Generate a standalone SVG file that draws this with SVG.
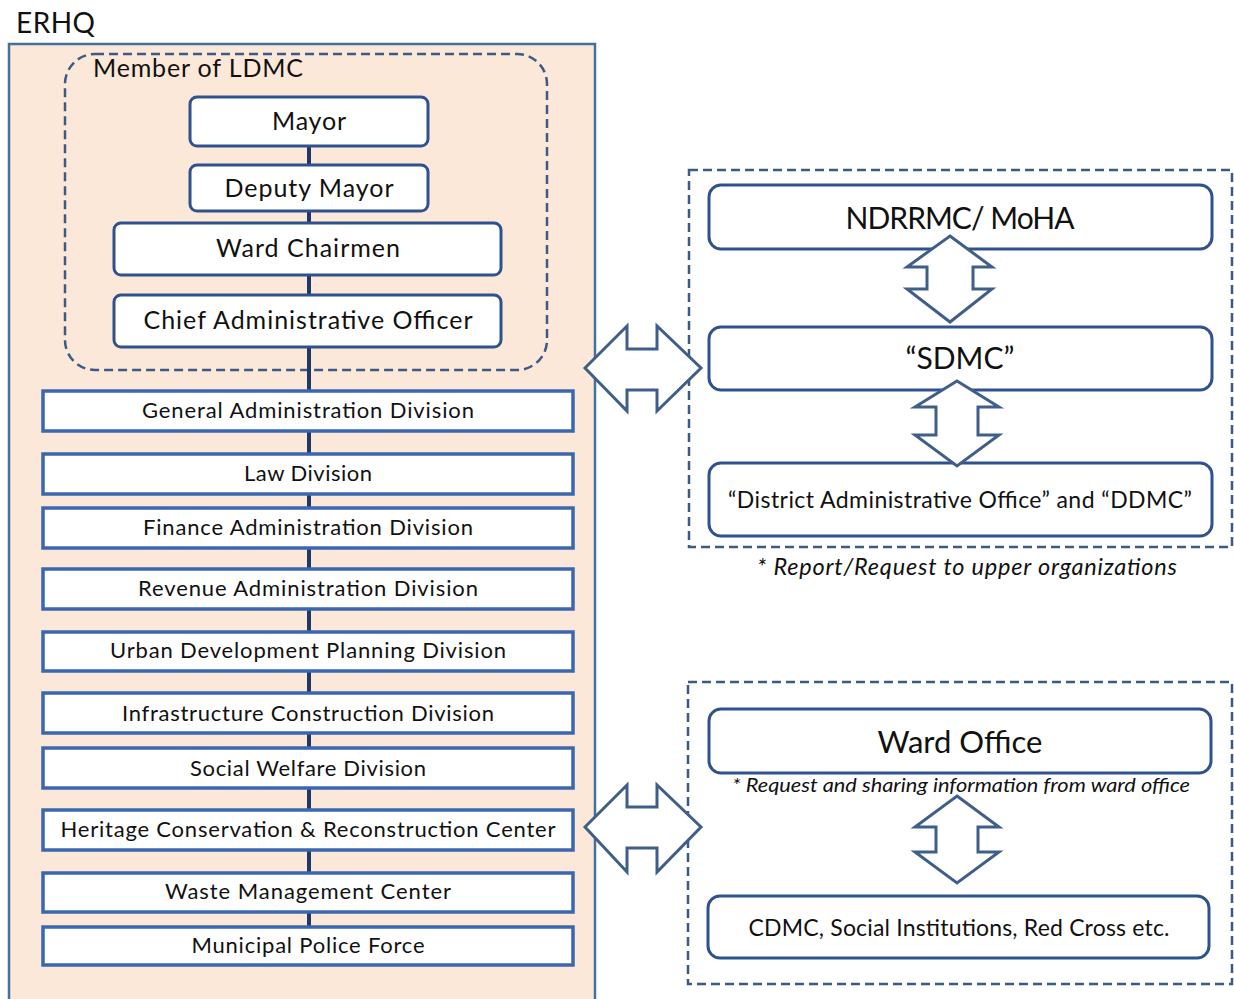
<svg xmlns="http://www.w3.org/2000/svg" width="1234" height="999" viewBox="0 0 1234 999">
<defs>
<style>
text{font-family:Lato,"Open Sans","Liberation Sans",sans-serif;fill:#111;text-anchor:middle}
.rb{fill:#fff;stroke:#2F528F;stroke-width:3}
.dv{fill:#fff;stroke:#3A67B0;stroke-width:3.5}
.dash{fill:none;stroke:#3B5A85;stroke-width:2.5;stroke-dasharray:9 5}
.arr{fill:#fff;stroke:#3F5F8A;stroke-width:3;stroke-linejoin:miter}
.t24{font-size:25px}
.t21{font-size:22px}
</style>
</defs>
<rect width="1234" height="999" fill="#fff"/>
<text x="16" y="33" style="font-size:28px;text-anchor:start" textLength="79" lengthAdjust="spacing">ERHQ</text>
<rect x="9" y="44" width="586" height="970" fill="#FCE8D9" stroke="#41719C" stroke-width="2.5"/>
<rect class="dash" x="65" y="54" width="482" height="316" rx="30"/>
<text x="93" y="77" style="font-size:25px;text-anchor:start" textLength="210" lengthAdjust="spacing">Member of LDMC</text>
<g id="connectors">
<line x1="309" y1="146" x2="309" y2="927" stroke="#1F3864" stroke-width="4"/>
</g>
<g id="mayor"><rect class="rb" x="190" y="97" width="238" height="49" rx="7"/><text class="t24" x="309" y="130" textLength="74" lengthAdjust="spacing">Mayor</text></g>
<g id="deputy"><rect class="rb" x="190" y="165" width="238" height="46" rx="7"/><text class="t24" x="309" y="197" textLength="169" lengthAdjust="spacing">Deputy Mayor</text></g>
<g id="wardchair"><rect class="rb" x="114" y="223" width="387" height="52" rx="7"/><text class="t24" x="308" y="257" textLength="184" lengthAdjust="spacing">Ward Chairmen</text></g>
<g id="cao"><rect class="rb" x="114" y="295" width="387" height="52" rx="7"/><text class="t24" x="308" y="329" textLength="329" lengthAdjust="spacing">Chief Administrative Officer</text></g>
<g id="div1"><rect class="dv" x="43" y="391" width="530" height="40"/><text class="t21" x="308" y="418" textLength="332" lengthAdjust="spacing">General Administration Division</text></g>
<g id="div2"><rect class="dv" x="43" y="454" width="530" height="40"/><text class="t21" x="308" y="481" textLength="128" lengthAdjust="spacing">Law Division</text></g>
<g id="div3"><rect class="dv" x="43" y="508" width="530" height="40"/><text class="t21" x="308" y="535" textLength="330" lengthAdjust="spacing">Finance Administration Division</text></g>
<g id="div4"><rect class="dv" x="43" y="569" width="530" height="40"/><text class="t21" x="308" y="596" textLength="340" lengthAdjust="spacing">Revenue Administration Division</text></g>
<g id="div5"><rect class="dv" x="43" y="632" width="530" height="39"/><text class="t21" x="308" y="658" textLength="396" lengthAdjust="spacing">Urban Development Planning Division</text></g>
<g id="div6"><rect class="dv" x="43" y="693" width="530" height="40"/><text class="t21" x="308" y="721" textLength="372" lengthAdjust="spacing">Infrastructure Construction Division</text></g>
<g id="div7"><rect class="dv" x="43" y="748" width="530" height="40"/><text class="t21" x="308" y="776" textLength="236" lengthAdjust="spacing">Social Welfare Division</text></g>
<g id="div8"><rect class="dv" x="43" y="810" width="530" height="40"/><text class="t21" x="308" y="837" textLength="495" lengthAdjust="spacing">Heritage Conservation &amp; Reconstruction Center</text></g>
<g id="div9"><rect class="dv" x="43" y="873" width="530" height="39"/><text class="t21" x="308" y="899" textLength="286" lengthAdjust="spacing">Waste Management Center</text></g>
<g id="div10"><rect class="dv" x="43" y="927" width="530" height="38"/><text class="t21" x="308" y="953" textLength="233" lengthAdjust="spacing">Municipal Police Force</text></g>

<rect class="dash" x="689" y="170" width="543" height="377"/>
<g id="ndrrmc"><rect class="rb" x="709" y="185" width="503" height="64" rx="12"/><text x="960" y="229" style="font-size:30px" textLength="229" lengthAdjust="spacing">NDRRMC/ MoHA</text></g>
<g id="sdmc"><rect class="rb" x="709" y="327" width="503" height="63" rx="12"/><text x="960" y="369" style="font-size:30px">“SDMC”</text></g>
<g id="ddmc"><rect class="rb" x="709" y="463" width="503" height="73" rx="12"/><text x="960" y="508" style="font-size:23px" textLength="464" lengthAdjust="spacing">“District Administrative Office” and “DDMC”</text></g>
<text x="967" y="575" style="font-size:23.5px;font-style:italic" textLength="420" lengthAdjust="spacing">* Report/Request to upper organizations</text>

<rect class="dash" x="688" y="682" width="544" height="302"/>
<g id="wardoffice"><rect class="rb" x="709" y="709" width="502" height="64" rx="12"/><text x="960" y="753" style="font-size:31px">Ward Office</text></g>
<text x="961" y="792" style="font-size:20px;font-style:italic" textLength="458" lengthAdjust="spacingAndGlyphs">* Request and sharing information from ward office</text>
<g id="cdmc"><rect class="rb" x="708" y="896" width="501" height="62" rx="12"/><text x="959" y="936" style="font-size:23px" textLength="421" lengthAdjust="spacing">CDMC, Social Institutions, Red Cross etc.</text></g>

<g id="arrows">
<path class="arr" d="M950,236 L992,267 L973,267 L973,289 L992,289 L950,322 L907,289 L927,289 L927,267 L907,267 Z"/>
<path class="arr" d="M957,381 L999,407 L978,407 L978,435 L999,435 L957,466 L915,435 L936,435 L936,407 L915,407 Z"/>
<path class="arr" d="M957,796 L999,827 L978,827 L978,852 L999,852 L957,883 L915,852 L936,852 L936,827 L915,827 Z"/>
<path class="arr" d="M585,368 L627,326 L627,349 L657,349 L657,326 L701,368 L657,411 L657,390 L627,390 L627,411 Z"/>
<path class="arr" d="M585,827 L627,785 L627,807 L657,807 L657,785 L701,827 L657,872 L657,848 L627,848 L627,872 Z"/>
</g>
</svg>
